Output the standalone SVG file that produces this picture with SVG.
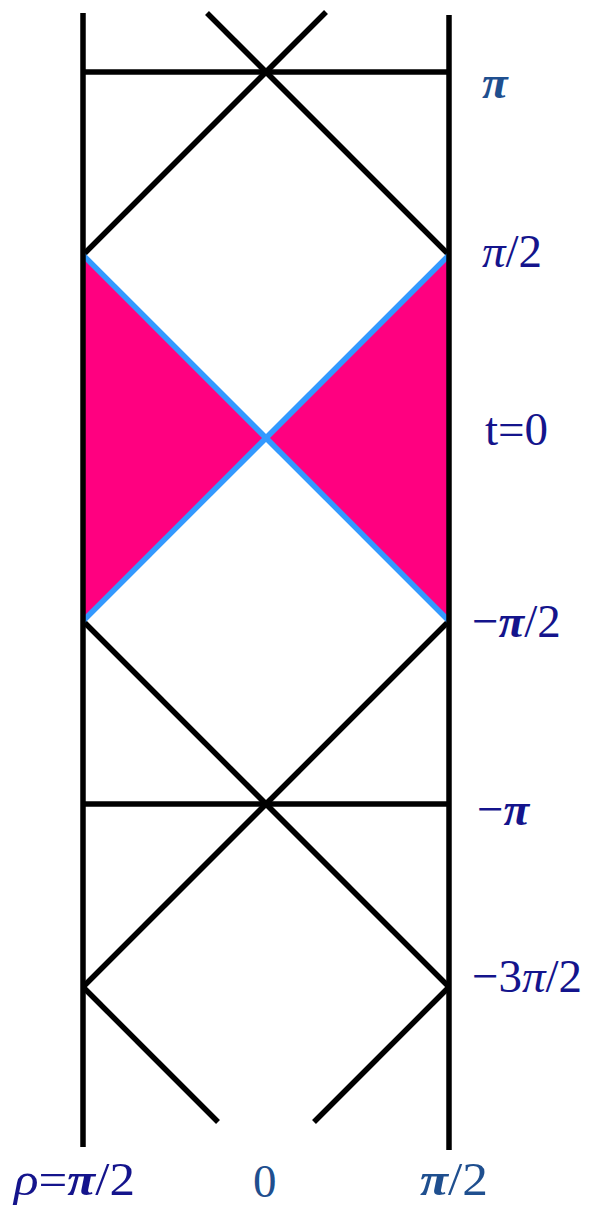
<svg xmlns="http://www.w3.org/2000/svg" width="597" height="1208" viewBox="0 0 597 1208">
<style>
.k{stroke:#000;stroke-width:5.5;fill:none;stroke-linecap:butt}
.b{stroke:#3399ff;stroke-width:5.5;fill:none}
.f{fill:#ff0080;stroke:none}
.t{font-family:"Liberation Serif","Times New Roman",serif;font-size:47px;fill:#14148c}
.s{fill:#1f4f8f}
</style>
<rect width="597" height="1208" fill="#fff"/>
<g id="fill">
<polygon class="f" points="83,255 266,438 83,621"/>
<polygon class="f" points="449,255 266,438 449,621"/>
</g>
<g id="connectors">
<line class="k" x1="207" y1="13" x2="449" y2="255"/>
<line class="k" x1="326" y1="12" x2="83" y2="255"/>
<line class="k" x1="83" y1="72" x2="449" y2="72"/>
<line class="k" x1="83" y1="621" x2="449" y2="987"/>
<line class="k" x1="449" y1="621" x2="83" y2="987"/>
<line class="k" x1="83" y1="804" x2="449" y2="804"/>
<line class="k" x1="83" y1="987" x2="218" y2="1122"/>
<line class="k" x1="449" y1="987" x2="314" y2="1122"/>
<line class="b" x1="83" y1="255" x2="449" y2="621"/>
<line class="b" x1="449" y1="255" x2="83" y2="621"/>
<line class="k" x1="83" y1="13" x2="83" y2="1147"/>
<line class="k" x1="449" y1="15" x2="449" y2="1150"/>
</g>
<g id="labels">
<text class="t s" x="482" y="98" font-weight="bold" font-style="italic">π</text>
<text class="t" x="482" y="267"><tspan font-style="italic">π</tspan>/2</text>
<text class="t" x="485" y="445">t=0</text>
<text class="t" x="472" y="637">−<tspan font-style="italic" font-weight="bold">π</tspan>/2</text>
<text class="t" x="477" y="825">−<tspan font-style="italic" font-weight="bold">π</tspan></text>
<text class="t" x="472" y="992">−3<tspan font-style="italic">π</tspan>/2</text>
<text class="t" x="14" y="1195" textLength="121" lengthAdjust="spacingAndGlyphs"><tspan font-style="italic">ρ</tspan>=<tspan font-style="italic" font-weight="bold">π</tspan>/2</text>
<text class="t s" x="253" y="1197">0</text>
<text class="t s" x="420" y="1195" textLength="68" lengthAdjust="spacingAndGlyphs"><tspan font-style="italic" font-weight="bold">π</tspan>/2</text>
</g>
</svg>
